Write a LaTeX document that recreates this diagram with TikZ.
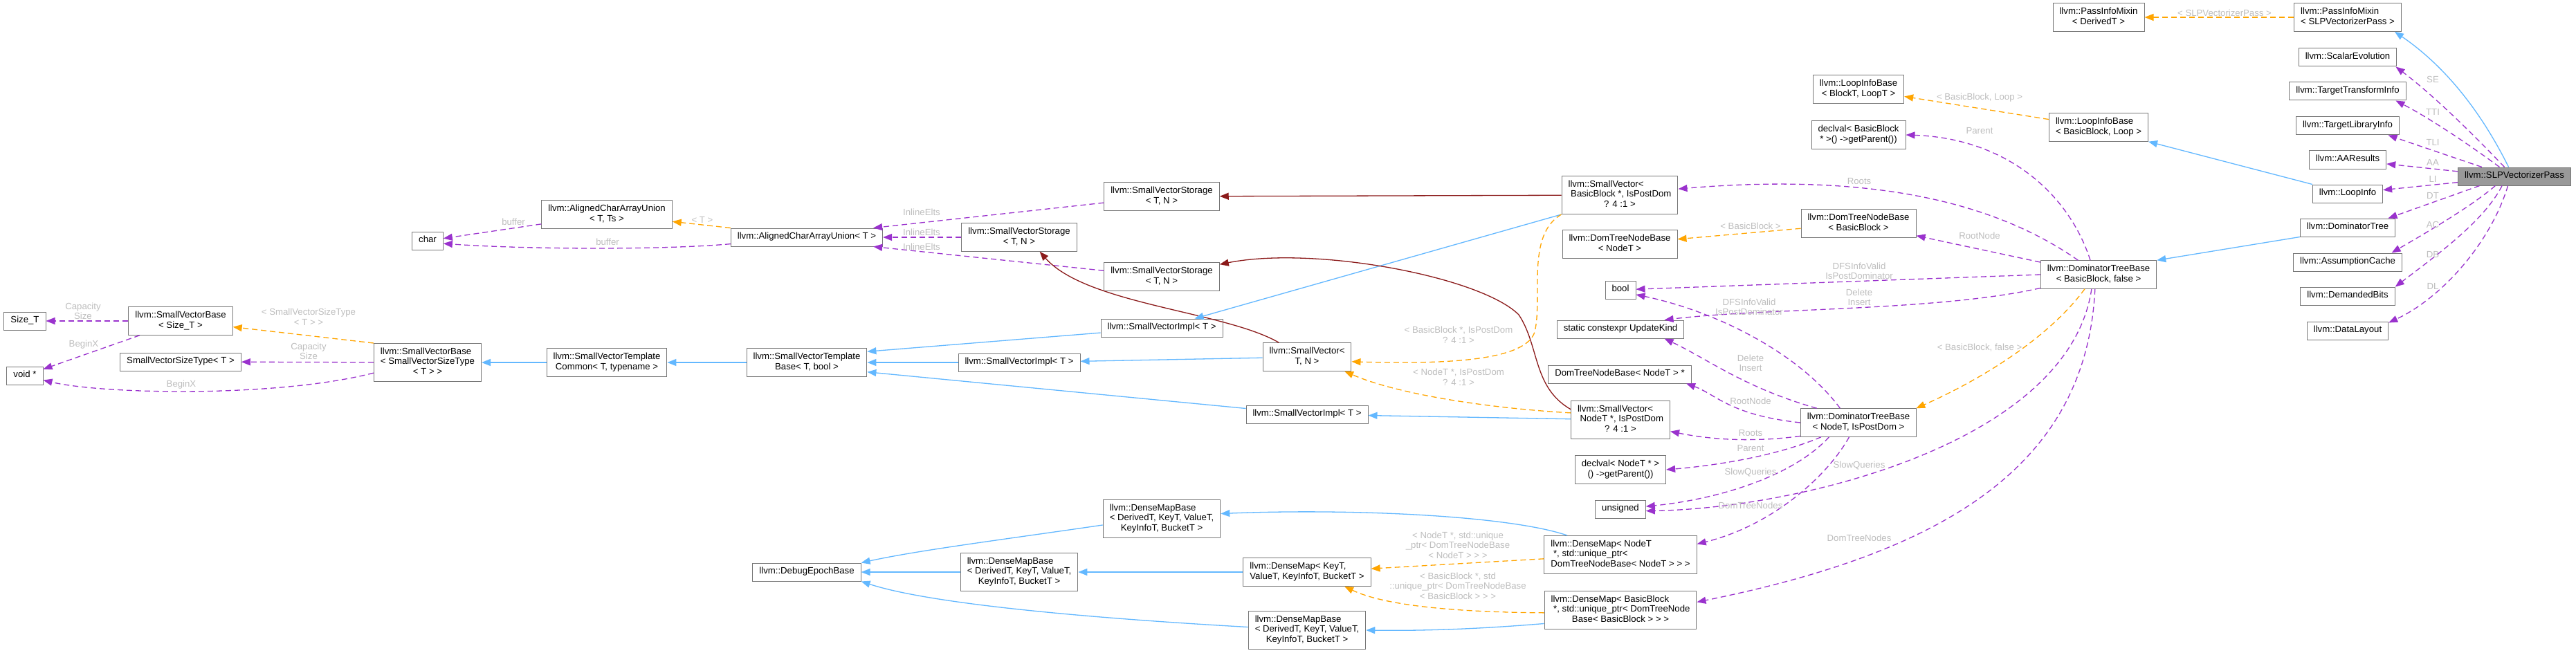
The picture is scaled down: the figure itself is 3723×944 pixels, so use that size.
\documentclass[tikz,border=0pt]{standalone}
\usepackage{fontspec}
\setmainfont{Liberation Sans}
\usepackage{xcolor}
\usepackage{tikz}
\usetikzlibrary{arrows.meta}
\definecolor{boxline}{HTML}{777777}
\definecolor{mainfill}{HTML}{999999}
\definecolor{usec}{HTML}{9A32CD}
\definecolor{inhc}{HTML}{63B8FF}
\definecolor{tplc}{HTML}{FFA500}
\definecolor{privc}{HTML}{8B1A1A}
\definecolor{lblgray}{HTML}{BEBEBE}
\newcommand{\dxfont}{\fontsize{13.2}{14.5}\selectfont}
\newcommand{\dxlines}[2]{\begin{tabular}{@{}l@{}}#1\\\multicolumn{1}{@{}c@{}}{#2}\end{tabular}}

\begin{document}
\begin{tikzpicture}[x=1pt, y=-1pt,
    cls/.style={rectangle, draw=boxline, line width=1pt, fill=white, font=\dxfont, inner xsep=9.5pt, inner ysep=5.75pt},
    clsmain/.style={cls, fill=mainfill},
    elbl/.style={font=\dxfont, text=lblgray, align=center, inner sep=0pt},
    member/.style={draw=usec, line width=1.3pt, dash pattern=on 8pt off 5pt, -{Triangle[length=13pt, width=10pt]}},
    inherit/.style={draw=inhc, line width=1.3pt, -{Triangle[length=13pt, width=10pt]}},
    tmpl/.style={draw=tplc, line width=1.3pt, dash pattern=on 8pt off 5pt, -{Triangle[length=13pt, width=10pt]}},
    priv/.style={draw=privc, line width=1.3pt, -{Triangle[length=13pt, width=10pt]}}
]
    \path[use as bounding box, fill=white] (0,0) rectangle (3723,944);

    % SmallVector base chain
    \node[cls] (sizet) at (36,464) {\strut Size\_T};
    \node[cls] (voidp) at (36,543) {\strut void *};
    \node[cls] (svbsz) at (261,464) {\dxlines{llvm::SmallVectorBase}{< Size\_T >}};
    \node[cls] (svst) at (261,523) {\strut SmallVectorSizeType< T >};
    \node[cls] (svbst) at (618,524) {\dxlines{llvm::SmallVectorBase\\< SmallVectorSizeType}{< T > >}};
    \node[cls] (svtc) at (877,524) {\dxlines{llvm::SmallVectorTemplate}{Common< T, typename >}};
    \node[cls] (svtb) at (1166,524) {\dxlines{llvm::SmallVectorTemplate}{Base< T, bool >}};

    % AlignedCharArrayUnion
    \node[cls] (chr) at (618,348) {\strut char};
    \node[cls] (acauts) at (877,310) {\dxlines{llvm::AlignedCharArrayUnion}{< T, Ts >}};
    \node[cls] (acaut) at (1166,343) {\strut llvm::AlignedCharArrayUnion< T >};

    % SmallVector storage and impl
    \node[cls] (svsmid) at (1473,343) {\dxlines{llvm::SmallVectorStorage}{< T, N >}};
    \node[cls] (svimid) at (1473,524) {\strut llvm::SmallVectorImpl< T >};
    \node[cls] (svstop) at (1679,284) {\dxlines{llvm::SmallVectorStorage}{< T, N >}};
    \node[cls] (svs2) at (1679,400) {\dxlines{llvm::SmallVectorStorage}{< T, N >}};
    \node[cls] (sviup) at (1679,474) {\strut llvm::SmallVectorImpl< T >};
    \node[cls] (svtn) at (1889,516) {\dxlines{llvm::SmallVector<}{T, N >}};
    \node[cls] (svilow) at (1889,599) {\strut llvm::SmallVectorImpl< T >};

    % DenseMap
    \node[cls] (debug) at (1166,827) {\strut llvm::DebugEpochBase};
    \node[cls] (dmbmid) at (1473,827) {\dxlines{llvm::DenseMapBase\\< DerivedT, KeyT, ValueT,}{KeyInfoT, BucketT >}};
    \node[cls] (dmbtop) at (1679,750) {\dxlines{llvm::DenseMapBase\\< DerivedT, KeyT, ValueT,}{KeyInfoT, BucketT >}};
    \node[cls] (dmkey) at (1889,827) {\dxlines{llvm::DenseMap< KeyT,}{ValueT, KeyInfoT, BucketT >}};
    \node[cls] (dmbbot) at (1889,911) {\dxlines{llvm::DenseMapBase\\< DerivedT, KeyT, ValueT,}{KeyInfoT, BucketT >}};

    % DominatorTreeBase members
    \node[cls] (svbb) at (2341,282) {\dxlines{llvm::SmallVector<\\\ BasicBlock *, IsPostDom}{? 4 :1 >}};
    \node[cls] (dtnbn) at (2341,353) {\dxlines{llvm::DomTreeNodeBase}{< NodeT >}};
    \node[cls] (bool) at (2342,419) {\strut bool};
    \node[cls] (ukind) at (2342,476) {\strut static constexpr UpdateKind};
    \node[cls] (dtnbp) at (2341,541) {\strut DomTreeNodeBase< NodeT > *};
    \node[cls] (svnt) at (2342,607) {\dxlines{llvm::SmallVector<\\\ NodeT *, IsPostDom}{? 4 :1 >}};
    \node[cls] (dvnt) at (2342,679) {\dxlines{declval< NodeT * >}{() ->getParent())}};
    \node[cls] (unsig) at (2342,736) {\strut unsigned};
    \node[cls] (dmnt) at (2342,802) {\dxlines{llvm::DenseMap< NodeT\\\ *, std::unique\_ptr<}{DomTreeNodeBase< NodeT > > >}};
    \node[cls] (dmbb) at (2342,882) {\dxlines{llvm::DenseMap< BasicBlock\\\ *, std::unique\_ptr< DomTreeNode}{Base< BasicBlock > > >}};
    \node[cls] (libt) at (2686,129) {\dxlines{llvm::LoopInfoBase}{< BlockT, LoopT >}};
    \node[cls] (declbb) at (2686,195) {\dxlines{declval< BasicBlock}{* >() ->getParent())}};
    \node[cls] (dtnbb) at (2686,323) {\dxlines{llvm::DomTreeNodeBase}{< BasicBlock >}};
    \node[cls] (dtbnt) at (2686,611) {\dxlines{llvm::DominatorTreeBase}{< NodeT, IsPostDom >}};
    \node[cls] (libb) at (3033,184) {\dxlines{llvm::LoopInfoBase}{< BasicBlock, Loop >}};
    \node[cls] (dtbbb) at (3033,397) {\dxlines{llvm::DominatorTreeBase}{< BasicBlock, false >}};

    % SLPVectorizerPass and its members
    \node[cls] (pimd) at (3033,25) {\dxlines{llvm::PassInfoMixin}{< DerivedT >}};
    \node[cls] (pims) at (3393,25) {\dxlines{llvm::PassInfoMixin}{< SLPVectorizerPass >}};
    \node[cls] (se) at (3393,83) {\strut llvm::ScalarEvolution};
    \node[cls] (tti) at (3393,132) {\strut llvm::TargetTransformInfo};
    \node[cls] (tli) at (3393,182) {\strut llvm::TargetLibraryInfo};
    \node[cls] (aa) at (3393,231) {\strut llvm::AAResults};
    \node[cls] (li) at (3393,280) {\strut llvm::LoopInfo};
    \node[cls] (dt) at (3393,329) {\strut llvm::DominatorTree};
    \node[cls] (ac) at (3393,379) {\strut llvm::AssumptionCache};
    \node[cls] (db) at (3393,428) {\strut llvm::DemandedBits};
    \node[cls] (dl) at (3393,478) {\strut llvm::DataLayout};
    \node[clsmain] (slp) at (3634,255) {\strut llvm::SLPVectorizerPass};

    % Relationships: SmallVector side
    \draw[member] (svbsz) -- (sizet) node[elbl] at (120,450) {Capacity\\Size};
    \draw[member] (svbsz) -- (voidp) node[elbl] at (121,498) {BeginX};
    \draw[tmpl] (svbst.north west) -- (svbsz) node[elbl] at (446,458) {< SmallVectorSizeType\\< T > >};
    \draw[member] (svbst) -- (svst) node[elbl] at (446,508) {Capacity\\Size};
    \draw[member] (svbst.191) .. controls (400,575) and (150,570) .. (voidp.-14) node[elbl] at (262,556) {BeginX};
    \draw[inherit] (svtc) -- (svbst);
    \draw[inherit] (svtb) -- (svtc);
    \draw[member] (acauts) -- (chr) node[elbl] at (742,321) {buffer};
    \draw[member] (acaut.185) .. controls (950,362) and (750,360) .. (chr.-10) node[elbl] at (878,350) {buffer};
    \draw[tmpl] (acaut.north west) -- (acauts) node[elbl] at (1015,318) {< T >};
    \draw[member] (svstop) -- ([xshift=-14pt]acaut.north east) node[elbl] at (1332,307) {InlineElts};
    \draw[member] (svsmid) -- (acaut) node[elbl] at (1332,336) {InlineElts};
    \draw[member] (svs2) -- ([xshift=-14pt]acaut.south east) node[elbl] at (1332,357) {InlineElts};
    \draw[inherit] (sviup) -- ([yshift=-5pt]svtb.north east);
    \draw[inherit] (svimid) -- (svtb);
    \draw[inherit] (svilow) -- ([yshift=7pt]svtb.south east);
    \draw[inherit] (svtn) -- (svimid);
    \draw[priv] (svtn.153) .. controls (1770,450) and (1570,440) .. (svsmid.-35);
    \draw[priv] (svbb) -- (svstop);
    \draw[inherit] (svbb.south west) -- (sviup);
    \draw[tmpl] (svbb.south west) .. controls (2205,340) and (2230,430) .. (2218,480) .. controls (2205,520) and (2100,527) .. (svtn.-6) node[elbl] at (2108,484) {< BasicBlock *, IsPostDom\\? 4 :1 >};
    \draw[priv] (svnt.168) .. controls (2215,560) and (2225,500) .. (2195,455) .. controls (2140,400) and (1900,355) .. (svs2.12);
    \draw[inherit] (svnt) -- (svilow);
    \draw[tmpl] (svnt.172) .. controls (2150,590) and (2020,570) .. (svtn.-21) node[elbl] at (2108,545) {< NodeT *, IsPostDom\\? 4 :1 >};

    % Relationships: DenseMap side
    \draw[inherit] (dmbtop.186) .. controls (1450,780) and (1330,795) .. (debug.north east);
    \draw[inherit] (dmbmid) -- (debug);
    \draw[inherit] (dmbbot.177) .. controls (1600,895) and (1350,875) .. (debug.south east);
    \draw[inherit] (dmkey) -- (dmbmid);
    \draw[inherit] (dmnt.160) .. controls (2180,745) and (1950,735) .. (dmbtop.5);
    \draw[tmpl] (dmnt.183) -- (dmkey.3) node[elbl] at (2107,788) {< NodeT *, std::unique\\\_ptr< DomTreeNodeBase\\< NodeT > > >};
    \draw[tmpl] (dmbb.182) .. controls (2100,885) and (2000,875) .. (dmkey.-21) node[elbl] at (2107,847) {< BasicBlock *, std\\::unique\_ptr< DomTreeNodeBase\\< BasicBlock > > >};
    \draw[inherit] (dmbb.190) .. controls (2130,910) and (2050,912) .. (dmbbot.east);

    % Relationships: DominatorTreeBase
    \draw[tmpl] (dtnbb) -- (dtnbn) node[elbl] at (2530,327) {< BasicBlock >};
    \draw[member] (dtbbb.145) .. controls (2880,290) and (2700,250) .. (svbb.6) node[elbl] at (2687,262) {Roots};
    \draw[member] (dtbbb) -- (dtnbb) node[elbl] at (2861,341) {RootNode};
    \draw[member] (dtbbb.120) .. controls (2990,280) and (2900,200) .. (declbb.east) node[elbl] at (2861,189) {Parent};
    \draw[member] (dtbbb.west) -- (bool) node[elbl] at (2687,392) {DFSInfoValid\\IsPostDominator};
    \draw[member] (dtbbb.193) .. controls (2800,450) and (2550,445) .. (ukind.12) node[elbl] at (2687,430) {Delete\\Insert};
    \draw[tmpl] (dtbbb.-134) .. controls (2960,490) and (2860,550) .. (dtbnt.14) node[elbl] at (2861,503) {< BasicBlock, false >};
    \draw[member] (dtbbb.-116) .. controls (2990,640) and (2600,735) .. (unsig.-4) node[elbl] at (2687,673) {SlowQueries};
    \draw[member] (dtbbb.-104) .. controls (3015,680) and (2800,800) .. (dmbb.6) node[elbl] at (2687,778) {DomTreeNodes};
    \draw[member] (dtbnt.142) .. controls (2600,510) and (2480,450) .. (bool.-17) node[elbl] at (2528,444) {DFSInfoValid\\IsPostDominator};
    \draw[member] (dtbnt.161) .. controls (2520,560) and (2470,520) .. (ukind.-12) node[elbl] at (2530,525) {Delete\\Insert};
    \draw[member] (dtbnt.west) .. controls (2500,600) and (2480,570) .. (dtnbp.-8) node[elbl] at (2530,580) {RootNode};
    \draw[member] (dtbnt.193) .. controls (2530,640) and (2470,635) .. (svnt.-13) node[elbl] at (2530,626) {Roots};
    \draw[member] (dtbnt.201) .. controls (2573,657) and (2490,672) .. (dvnt.east) node[elbl] at (2530,648) {Parent};
    \draw[member] (dtbnt.206) .. controls (2590,690) and (2480,722) .. (unsig.6) node[elbl] at (2530,683) {SlowQueries};
    \draw[member] (dtbnt.237) .. controls (2640,690) and (2560,760) .. (dmnt.8) node[elbl] at (2530,731) {DomTreeNodes};

    % Relationships: LoopInfo, DominatorTree, pass
    \draw[tmpl] (libb.171) -- (libt.-9) node[elbl] at (2861,141) {< BasicBlock, Loop >};
    \draw[inherit] (li.north west) -- (libb.south east);
    \draw[inherit] (dt.south west) -- (dtbbb.north east);
    \draw[tmpl] (pims) -- (pimd) node[elbl] at (3215,19) {< SLPVectorizerPass >};
    \draw[inherit] (slp.122) .. controls (3590,170) and (3540,100) .. (pims.-17);
    \draw[member] (slp.137) .. controls (3580,200) and (3520,140) .. (se.-11) node[elbl] at (3516,115) {SE};
    \draw[member] (slp.148) .. controls (3570,210) and (3510,170) .. (tti.-11) node[elbl] at (3516,162) {TTI};
    \draw[member] (slp.164) -- (tli.-13) node[elbl] at (3516,206) {TLI};
    \draw[member] (slp.175) -- (aa.-6) node[elbl] at (3516,235) {AA};
    \draw[member] (slp.186) -- (li.6) node[elbl] at (3516,259) {LI};
    \draw[member] (slp.195) -- (dt.13) node[elbl] at (3516,283) {DT};
    \draw[member] (slp.206) .. controls (3570,300) and (3500,340) .. (ac.12) node[elbl] at (3516,325) {AC};
    \draw[member] (slp.217) .. controls (3590,320) and (3520,370) .. (db.11) node[elbl] at (3516,368) {DB};
    \draw[member] (slp.235) .. controls (3600,350) and (3530,430) .. (dl.11) node[elbl] at (3516,414) {DL};
\end{tikzpicture}
\end{document}
